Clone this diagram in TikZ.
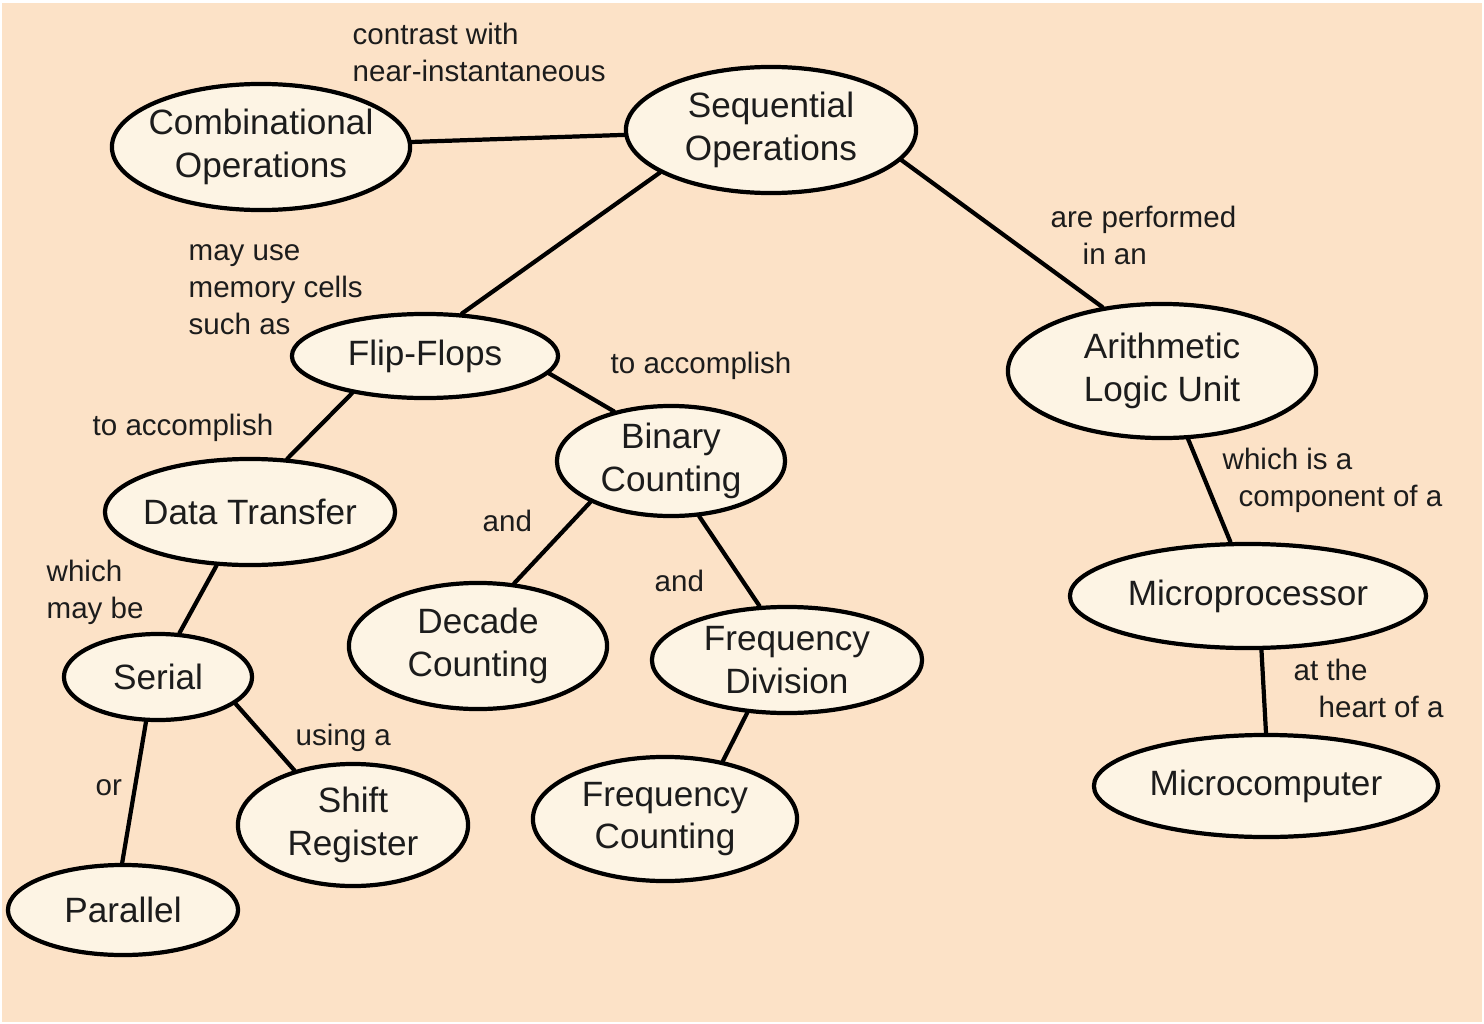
\documentclass[tikz,border=0pt]{standalone}
\usepackage{fontspec}
\setmainfont{Liberation Sans}
\usetikzlibrary{shapes.geometric}
\definecolor{peach}{RGB}{252,226,199}
\definecolor{cream}{RGB}{253,244,228}
\definecolor{ink}{RGB}{28,28,28}

\begin{document}
\begin{tikzpicture}[x=0.01cm,y=-0.01cm,
  concept/.style={ellipse,draw=black,line width=1.2pt,fill=cream,text=ink,align=center,
    inner xsep=-1mm,inner ysep=0pt,font=\fontsize{10}{12.2}\selectfont},
  link/.style={line width=1.2pt,line cap=round}]
  \tikzstyle{word} = [anchor=west,align=left,inner sep=0pt,text=ink,font=\fontsize{8.4}{10.5}\selectfont]
  % background
  \fill[white] (0,0) rectangle (1484,1024);
  \fill[peach] (2,3) rectangle (1482,1022);
  % concepts
  \node (comb) [concept,minimum width=2.98cm,minimum height=1.26cm] at (261,147) {Combinational\\Operations};
  \node (seq) [concept,minimum width=2.90cm,minimum height=1.26cm] at (771,130) {Sequential\\Operations};
  \node (ff) [concept,minimum width=2.66cm,minimum height=0.84cm] at (425,356) {Flip-Flops};
  \node (alu) [concept,minimum width=3.08cm,minimum height=1.34cm] at (1162,371) {Arithmetic\\Logic Unit};
  \node (bin) [concept,minimum width=2.28cm,minimum height=1.10cm] at (671,461) {Binary\\Counting};
  \node (dt) [concept,minimum width=2.90cm,minimum height=1.06cm] at (250,512) {Data Transfer};
  \node (dec) [concept,minimum width=2.58cm,minimum height=1.26cm] at (478,646) {Decade\\Counting};
  \node (fdiv) [concept,minimum width=2.70cm,minimum height=1.06cm] at (787,660) {Frequency\\Division};
  \node (ser) [concept,minimum width=1.88cm,minimum height=0.86cm] at (158,677) {Serial};
  \node (shift) [concept,minimum width=2.30cm,minimum height=1.22cm] at (353,825) {Shift\\Register};
  \node (fcnt) [concept,minimum width=2.64cm,minimum height=1.24cm] at (665,819) {Frequency\\Counting};
  \node (par) [concept,minimum width=2.30cm,minimum height=0.90cm] at (123,910) {Parallel};
  \node (mp) [concept,minimum width=3.56cm,minimum height=1.04cm] at (1248,596) {Microprocessor};
  \node (mc) [concept,minimum width=3.44cm,minimum height=1.02cm] at (1266,786) {Microcomputer};
  % links
  \draw[link] (comb) -- (seq);
  \draw[link] (seq.201) -- (ff.49);
  \draw[link] (seq.-13) -- (alu.133);
  \draw[link] (ff.-8) -- (bin.139);
  \draw[link] (ff.207) -- (dt.55);
  \draw[link] (dt.238) -- (ser.64);
  \draw[link] (bin.207) -- (dec.60);
  \draw[link] (bin.-63) -- (fdiv.117);
  \draw[link] (fdiv.233) -- (fcnt.45);
  \draw[link] (ser.255) -- (par.91);
  \draw[link] (ser.-19) -- (shift.137);
  \draw[link] (alu.-69) -- (mp.108);
  \draw[link] (mp.-76) -- (mc.90);
  % link words
  \node (w_contrast) [word] at (352,52) {contrast with\\near-instantaneous};
  \node (w_mayuse) [word] at (188,290) {may use\\memory cells\\such as};
  \node (w_performed) [word] at (1050,235) {are performed\\\hspace*{0.32cm}in an};
  \node (w_accR) [word] at (610,366) {to accomplish};
  \node (w_accL) [word] at (92,428) {to accomplish};
  \node (w_and1) [word] at (482,521) {and};
  \node (w_and2) [word] at (654,581) {and};
  \node (w_maybe) [word] at (46,592) {which\\may be};
  \node (w_using) [word] at (295,738) {using a};
  \node (w_or) [word] at (95,788) {or};
  \node (w_comp) [word] at (1222,480) {which is a\\\hspace*{0.16cm}component of a};
  \node (w_heart) [word] at (1293,688) {at the\\\hspace*{0.25cm}heart of a};
\end{tikzpicture}
\end{document}
